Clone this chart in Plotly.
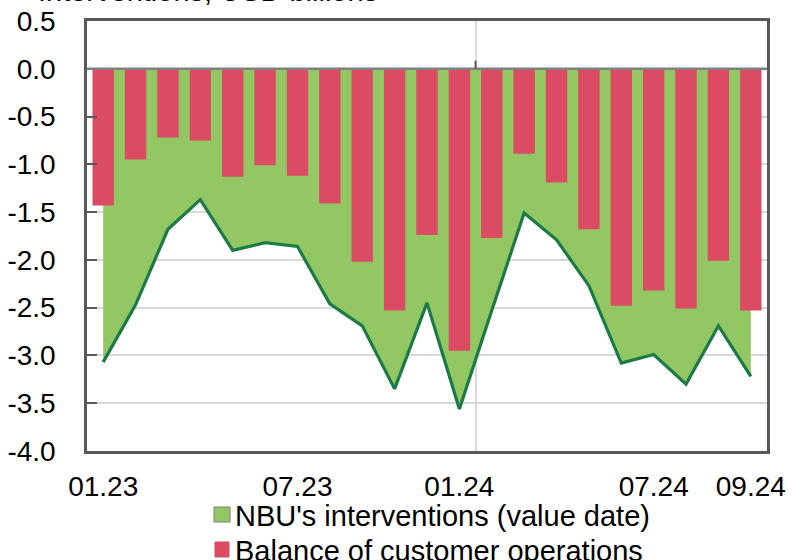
import plotly.graph_objects as go

# Monthly data, USD billions
months = ["01.23", "02.23", "03.23", "04.23", "05.23", "06.23", "07.23", "08.23",
          "09.23", "10.23", "11.23", "12.23", "01.24", "02.24", "03.24", "04.24",
          "05.24", "06.24", "07.24", "08.24", "09.24"]
nbu_interventions = [-3.07, -2.47, -1.68, -1.37, -1.90, -1.82, -1.86, -2.46, -2.69, -3.35,
                     -2.45, -3.56, -2.53, -1.51, -1.79, -2.27, -3.08, -2.99, -3.30, -2.69,
                     -3.22]
customer_balance = [-1.43, -0.95, -0.72, -0.75, -1.13, -1.01, -1.12, -1.41, -2.02, -2.53,
                    -1.74, -2.95, -1.77, -0.89, -1.19, -1.68, -2.48, -2.32, -2.51, -2.01,
                    -2.53]

# Category-axis labels and the month index each one sits under
tick_labels = ["01.23", "07.23", "01.24", "07.24", "09.24"]
tick_index = [0, 6, 11, 17, 20]

y_ticks = [0.5, 0.0, -0.5, -1.0, -1.5, -2.0, -2.5, -3.0, -3.5, -4.0]
y_tick_labels = ["0.5", "0.0", "-0.5", "-1.0", "-1.5", "-2.0", "-2.5", "-3.0", "-3.5", "-4.0"]

series_names = ["NBU's interventions (value date)", "Balance of customer operations"]

GREEN = "#92C763"
GREEN_LINE = "#1B7A45"
RED = "#DB4B64"
FRAME = "#595959"
GRID = "#D9D9D9"
FONT = "Liberation Sans, Arial, sans-serif"

W, H = 792, 560
M_L, M_R, M_T, M_B = 87, 25, 21, 109
PLOT_W = W - M_L - M_R
PLOT_H = H - M_T - M_B


def px_x(px):
    """Pixel column -> paper x."""
    return (px - M_L) / PLOT_W


def px_y(py):
    """Pixel row (from top) -> paper y."""
    return (H - M_B - py) / PLOT_H


idx = list(range(len(months)))
x_range = [-0.5, len(months) - 0.5]
y_range = [y_ticks[-1], y_ticks[0]]

fig = go.Figure()

# NBU interventions as a filled area (drawn underneath the bars)
fig.add_trace(go.Scatter(
    x=idx, y=nbu_interventions, mode="lines",
    fill="tozeroy", fillcolor=GREEN,
    line=dict(color=GREEN_LINE, width=3.2),
    xaxis="x", yaxis="y", name=series_names[0], showlegend=False, hoverinfo="skip",
))

# Balance of customer operations as bars on an overlaid subplot so they sit on top
fig.add_trace(go.Bar(
    x=idx, y=customer_balance, marker=dict(color=RED, line=dict(width=0)),
    xaxis="x2", yaxis="y2", name=series_names[1], showlegend=False, hoverinfo="skip",
))

# Legend below the chart: colour swatch + label per series
legend_rows = [
    (GREEN, "#7F7F7F", 507, 522, 214, 230, 514),
    (RED, RED, 542, 557, 215, 229, 549),
]
shapes = [
    # zero line and the category tick crossing it at the year boundary
    dict(type="line", xref="paper", yref="y", x0=0, x1=1, y0=0, y1=0,
         line=dict(color="#808080", width=2.5), layer="above"),
    dict(type="line", xref="x", yref="y", x0=11.5, x1=11.5, y0=0, y1=0.085,
         line=dict(color=FRAME, width=2), layer="above"),
]
annotations = [dict(
    text="Interventions, USD billions", xref="paper", yref="paper",
    x=-0.075, y=px_y(9), xanchor="left", yanchor="bottom",
    showarrow=False, font=dict(size=29),
)]
for (fill, edge, top, bot, left, right, mid), name in zip(legend_rows, series_names):
    shapes.append(dict(
        type="rect", xref="paper", yref="paper",
        x0=px_x(left), x1=px_x(right), y0=px_y(bot), y1=px_y(top),
        fillcolor=fill, line=dict(color=edge, width=1), layer="above",
    ))
    annotations.append(dict(
        text=name, xref="paper", yref="paper",
        x=px_x(234), y=px_y(mid + 2), xanchor="left", yanchor="middle",
        showarrow=False, font=dict(size=29), borderpad=0,
    ))

fig.update_layout(
    width=W, height=H,
    margin=dict(l=M_L, r=M_R, t=M_T, b=M_B, autoexpand=False),
    paper_bgcolor="white", plot_bgcolor="white",
    font=dict(family=FONT, size=28, color="black"),
    bargap=0.34,
    showlegend=False,
    xaxis=dict(
        range=x_range, tickmode="array", tickvals=[11.5],
        showticklabels=False, ticks="",
        showgrid=True, gridcolor=GRID, gridwidth=1.5,
        showline=True, linecolor=FRAME, linewidth=2.5, mirror=True,
        zeroline=False,
    ),
    xaxis2=dict(
        range=x_range, overlaying="x", side="bottom",
        tickmode="array", tickvals=tick_index, ticktext=tick_labels,
        ticks="", showgrid=False, zeroline=False, showline=False,
        ticklabelstandoff=16, tickfont=dict(size=28),
    ),
    yaxis=dict(
        range=y_range, tickmode="array", tickvals=y_ticks, ticktext=y_tick_labels,
        ticks="inside", ticklen=10, tickwidth=2, tickcolor=FRAME,
        showgrid=True, gridcolor=GRID, gridwidth=1.5,
        showline=True, linecolor=FRAME, linewidth=2.5, mirror=True,
        zeroline=False, ticklabelstandoff=23, tickfont=dict(size=28),
    ),
    yaxis2=dict(
        range=y_range, overlaying="y", showgrid=False, zeroline=False,
        showticklabels=False, ticks="", showline=False,
    ),
    annotations=annotations,
    shapes=shapes,
)

fig.write_html("out.html")
